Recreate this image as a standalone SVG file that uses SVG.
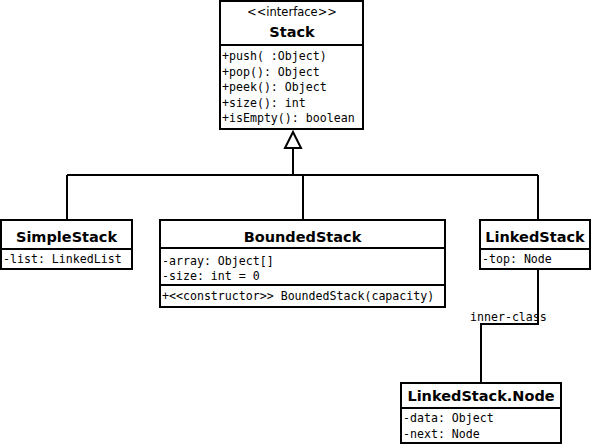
<svg xmlns="http://www.w3.org/2000/svg" width="594" height="446" viewBox="0 0 594 446">
<style>
.box{fill:#fff;stroke:#000;stroke-width:2}
.sep{stroke:#000;stroke-width:2}
.title{font-family:"DejaVu Sans",sans-serif;font-weight:bold;font-size:14.5px;text-anchor:middle;fill:#000}
.stereo{font-family:"DejaVu Sans",sans-serif;font-size:11.5px;text-anchor:middle;fill:#000}
.mem{font-family:"DejaVu Sans Mono",monospace;font-size:11.6px;fill:#000}
.edge{fill:none;stroke:#000;stroke-width:2}
.lbl{font-family:"DejaVu Sans Mono",monospace;font-size:11.6px;fill:#000}
</style>
<rect width="594" height="446" fill="#fff"/>
<g id="connectors">
<path class="edge" d="M293 148 V175 M67 175 H538 M67 175 V220 M303 175 V220 M538 175 V220"/>
<polygon points="293,132 285,148 301,148" fill="#fff" stroke="#000" stroke-width="2"/>
<path class="edge" d="M538 269 V324 H481 V383"/>
<text class="lbl" x="470" y="321">inner-class</text>
</g>
<g id="Stack">
<rect class="box" x="220" y="1" width="143" height="128"/>
<line class="sep" x1="220" y1="45" x2="363" y2="45"/>
<text class="stereo" x="292" y="16">&lt;&lt;interface&gt;&gt;</text>
<text class="title" x="292" y="37">Stack</text>
<text class="mem" x="222" y="60">+push( :Object)</text>
<text class="mem" x="222" y="75.5">+pop(): Object</text>
<text class="mem" x="222" y="91">+peek(): Object</text>
<text class="mem" x="222" y="106.5">+size(): int</text>
<text class="mem" x="222" y="122">+isEmpty(): boolean</text>
</g>
<g id="SimpleStack">
<rect class="box" x="1" y="220" width="131" height="49"/>
<line class="sep" x1="1" y1="249" x2="132" y2="249"/>
<text class="title" x="66.5" y="242">SimpleStack</text>
<text class="mem" x="3" y="263">-list: LinkedList</text>
</g>
<g id="BoundedStack">
<rect class="box" x="160" y="220" width="285" height="87"/>
<line class="sep" x1="160" y1="248" x2="445" y2="248"/>
<line class="sep" x1="160" y1="285" x2="445" y2="285"/>
<text class="title" x="302.5" y="242">BoundedStack</text>
<text class="mem" x="162" y="265">-array: Object[]</text>
<text class="mem" x="162" y="280">-size: int = 0</text>
<text class="mem" x="162" y="300">+&lt;&lt;constructor&gt;&gt; BoundedStack(capacity)</text>
</g>
<g id="LinkedStack">
<rect class="box" x="480" y="220" width="110" height="49"/>
<line class="sep" x1="480" y1="249" x2="590" y2="249"/>
<text class="title" x="535" y="242">LinkedStack</text>
<text class="mem" x="482" y="263">-top: Node</text>
</g>
<g id="LinkedStackNode">
<rect class="box" x="401" y="383" width="160" height="60"/>
<line class="sep" x1="401" y1="408" x2="561" y2="408"/>
<text class="title" x="481" y="401">LinkedStack.Node</text>
<text class="mem" x="403" y="422">-data: Object</text>
<text class="mem" x="403" y="438">-next: Node</text>
</g>
</svg>
